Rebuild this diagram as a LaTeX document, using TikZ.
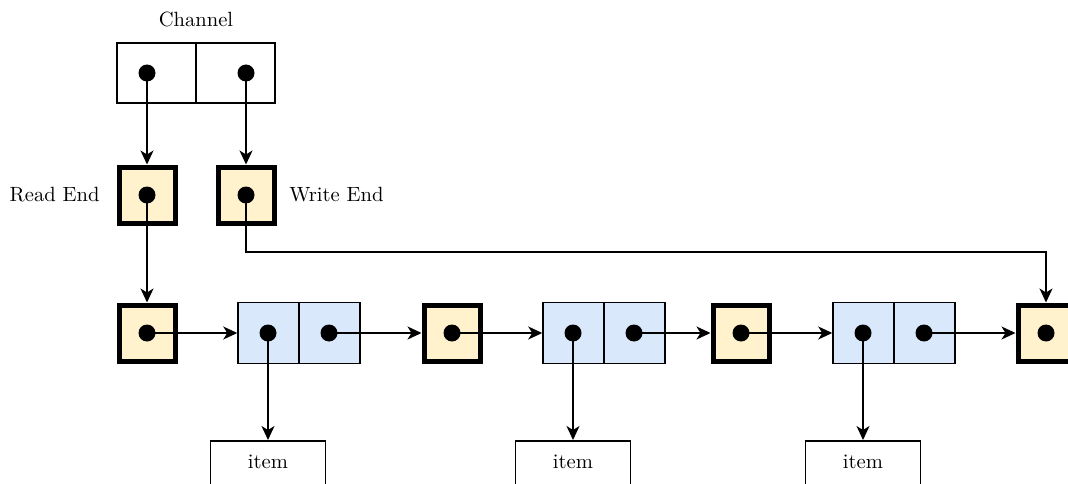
\documentclass[tikz,border=0pt]{standalone}
\usetikzlibrary{arrows.meta}
\definecolor{ylw}{HTML}{FFF2CC}
\definecolor{blu}{HTML}{DAE8FC}
\begin{document}
\begin{tikzpicture}[x=1pt,y=-1pt,
  ybox/.style={draw,line width=5pt,fill=ylw,minimum size=56pt,inner sep=0pt},
  bhalf/.style={draw,line width=1.5pt,fill=blu,minimum width=61pt,minimum height=61pt,inner sep=0pt},
  chalf/.style={draw,line width=1.5pt,fill=white,minimum width=79pt,minimum height=60pt,inner sep=0pt},
  itembox/.style={draw,line width=1.5pt,fill=white,minimum width=115pt,minimum height=62pt,inner sep=0pt},
  dot/.style={circle,fill=black,minimum size=17pt,inner sep=0pt},
  arr/.style={line width=1.5pt,-{Stealth[length=14pt,width=13pt,inset=4pt]}},
  lbl/.style={inner sep=0pt,scale=2.06}]
\useasboundingbox (0,0) rectangle (1068,484);
\begin{scope}
\clip (0,0) rectangle (1068,484);
% channel
\node[lbl] (chl) at (196,19) {Channel};
\node[chalf] (ch1) at (156.5,73) {};
\node[chalf] (ch2) at (235.5,73) {};
\node[dot] (cd1) at (147,73) {};
\node[dot] (cd2) at (246,73) {};
% ends
\node[ybox] (re) at (147,195) {};
\node[ybox] (we) at (246,195) {};
\node[dot] (red) at (147,195) {};
\node[dot] (wed) at (246,195) {};
\node[lbl,anchor=east] (rel) at (100,195) {Read End};
\node[lbl,anchor=west] (wel) at (289,195) {Write End};
% row
\node[ybox] (y1) at (147,333) {};
\node[ybox] (y2) at (452,333) {};
\node[ybox] (y3) at (741,333) {};
\node[ybox] (y4) at (1046,333) {};
\foreach \n/\x in {y1/147,y2/452,y3/741,y4/1046}{\node[dot] (\n d) at (\x,333) {};}
\node[bhalf] (b1a) at (268.5,333) {};
\node[bhalf] (b1b) at (329.5,333) {};
\node[bhalf] (b2a) at (573.5,333) {};
\node[bhalf] (b2b) at (634.5,333) {};
\node[bhalf] (b3a) at (863.5,333) {};
\node[bhalf] (b3b) at (924.5,333) {};
\foreach \n/\x in {b1a/268,b1b/329,b2a/573,b2b/634,b3a/863,b3b/924}{\node[dot] (\n d) at (\x,333) {};}
% items
\node[itembox,anchor=north] (i1) at (268,440) {};
\node[itembox,anchor=north] (i2) at (573,440) {};
\node[itembox,anchor=north] (i3) at (863,440) {};
\node[lbl] (i1t) at (268,462) {item};
\node[lbl] (i2t) at (573,462) {item};
\node[lbl] (i3t) at (863,462) {item};
% arrows
\draw[arr] (cd1.center) -- (re.north);
\draw[arr] (cd2.center) -- (we.north);
\draw[arr] (red.center) -- (y1.north);
\coordinate (bend) at (1046,252);
\draw[arr] (wed.center) |- (bend) -- (y4.north);
\draw[arr] (y1d.center) -- (b1a.west);
\draw[arr] (b1bd.center) -- (y2.west);
\draw[arr] (y2d.center) -- (b2a.west);
\draw[arr] (b2bd.center) -- (y3.west);
\draw[arr] (y3d.center) -- (b3a.west);
\draw[arr] (b3bd.center) -- (y4.west);
\draw[arr] (b1ad.center) -- (i1.north);
\draw[arr] (b2ad.center) -- (i2.north);
\draw[arr] (b3ad.center) -- (i3.north);
\end{scope}
\end{tikzpicture}
\end{document}
